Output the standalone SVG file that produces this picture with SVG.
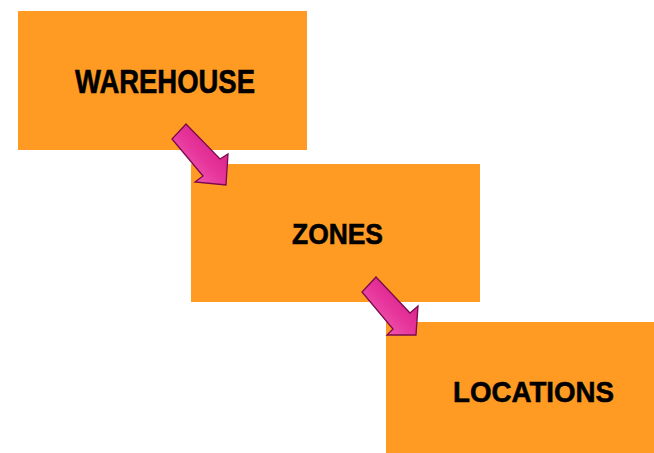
<svg xmlns="http://www.w3.org/2000/svg" width="654" height="453" viewBox="0 0 654 453">
<defs>
<linearGradient id="pink" gradientUnits="objectBoundingBox" x1="0" y1="1" x2="1" y2="0">
<stop offset="0" stop-color="#f870c4"/>
<stop offset="0.5" stop-color="#e6349a"/>
<stop offset="1" stop-color="#cc1880"/>
</linearGradient>
</defs>
<style>
.box{fill:#FF9B22;}
.lbl{font-family:"Liberation Sans",Arial,sans-serif;font-weight:bold;fill:#000;stroke:#000;stroke-width:0.6;text-anchor:start;}
.arr{fill:url(#pink);stroke:#7a0a4a;stroke-width:1.3;stroke-linejoin:miter;}
</style>
<rect width="654" height="453" fill="#fff"/>
<g id="warehouse">
<rect class="box" x="18" y="11" width="289" height="139"/>
<text class="lbl" x="75" y="93" font-size="33" textLength="180" lengthAdjust="spacingAndGlyphs">WAREHOUSE</text>
</g>
<g id="zones">
<rect class="box" x="191" y="164" width="289" height="138"/>
<text class="lbl" x="292" y="244" font-size="30" textLength="91" lengthAdjust="spacingAndGlyphs">ZONES</text>
</g>
<g id="locations">
<rect class="box" x="386" y="322" width="268" height="131"/>
<text class="lbl" x="453" y="402" font-size="30" textLength="161" lengthAdjust="spacingAndGlyphs">LOCATIONS</text>
</g>
<g id="connectors">
<polygon class="arr" points="186,124 220,159 228,154 226,185 195,182 203,176 172,139"/>
<polygon class="arr" points="376,277 410,313 418,306 416,335 387,335 393,329 362,292"/>
</g>
</svg>
